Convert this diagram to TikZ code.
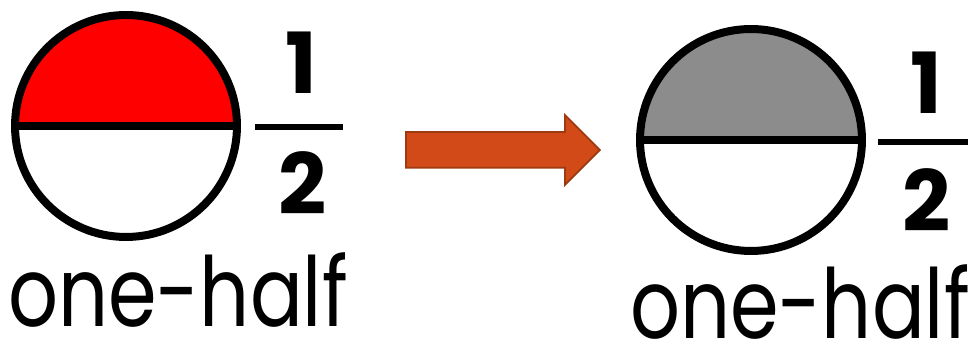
\documentclass[tikz,border=0pt]{standalone}
\usepackage{fontspec}
\setmainfont{Poppins}
\usetikzlibrary{shapes.arrows}
\definecolor{arrowfill}{HTML}{D24A18}
\definecolor{arrowline}{HTML}{9E3A10}
\definecolor{greyhalf}{HTML}{8C8C8C}

\begin{document}
\begin{tikzpicture}[x=0.02cm,y=0.02cm,
    disc/.style={circle,draw,line width=0.16cm,minimum size=4.44cm,inner sep=0pt,outer sep=0pt},
    mid/.style={line width=0.16cm},
    bar/.style={line width=0.12cm},
    digit/.style={font=\fontsize{48}{52}\selectfont\bfseries,inner sep=0pt},
    word/.style={font=\fontsize{55}{60}\selectfont,inner sep=0pt,text depth=0pt,anchor=base}]
    \useasboundingbox (0,0) rectangle (976,340);
    % left: red half
    \node[disc,path picture={\fill[red] (path picture bounding box.west) rectangle (path picture bounding box.north east);}] (lhalf) at (126,214) {};
    \draw[mid] (lhalf.west)--(lhalf.east);
    \node[digit] (lone) at (301,277) {1};
    \draw[bar] (255,213)--(343,213);
    \node[digit] (ltwo) at (303,157) {2};
    \node[word] (lword) at (178,13) {\scalebox{0.81}[1]{one-half}};
    % arrow
    \node[single arrow,draw=arrowline,fill=arrowfill,line width=1pt,
          minimum height=3.88cm,inner xsep=0pt,inner ysep=0.34cm,
          single arrow head extend=0.34cm,single arrow head indent=0pt,
          anchor=tail] (turn) at (405,190) {};
    % right: grey half
    \node[disc,path picture={\fill[greyhalf] (path picture bounding box.west) rectangle (path picture bounding box.north east);}] (rhalf) at (751,200) {};
    \draw[mid] (rhalf.west)--(rhalf.east);
    \node[digit] (rone) at (926,257) {1};
    \draw[bar] (878,198)--(968,198);
    \node[digit] (rtwo) at (927,140) {2};
    \node[word] (rword) at (800,1) {\scalebox{0.81}[1]{one-half}};
\end{tikzpicture}
\end{document}
